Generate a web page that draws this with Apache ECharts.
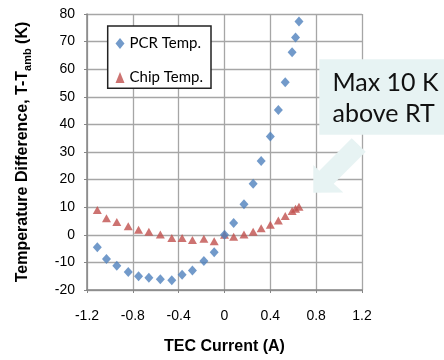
<!DOCTYPE html>
<html>
<head>
<meta charset="utf-8">
<script src="https://cdn.jsdelivr.net/npm/echarts@6/dist/echarts.min.js"></script>
<style>
  html, body { margin: 0; padding: 0; background: #fff; }
  #chart { width: 444px; height: 360px; }
</style>
</head>
<body>
<div id="chart"></div>
<script>
// TEC current (A), shared by both series
const tecCurrent = [-1.11, -1.03, -0.94, -0.84, -0.75, -0.66, -0.56, -0.46, -0.37, -0.28, -0.18, -0.09,
  0, 0.08, 0.17, 0.25, 0.32, 0.40, 0.47, 0.53, 0.59, 0.62, 0.65];
// T - T_amb (K)
const pcrTemp = [-4.5, -8.8, -11.2, -13.5, -15.0, -15.6, -16.1, -16.5, -14.5, -12.9, -9.5, -6.3,
  0, 4.3, 11.1, 18.5, 26.7, 35.6, 45.2, 55.3, 66.1, 71.5, 77.3];
const chipTemp = [9.0, 6.0, 4.6, 3.1, 1.8, 1.1, 0.1, -1.2, -1.2, -1.9, -1.4, -2.3,
  0, -0.7, 0.1, 1.1, 2.4, 3.6, 5.2, 6.8, 8.6, 9.4, 10.2];
const seriesNames = ["PCR Temp.", "Chip Temp."];
const noteLines = ["Max 10 K", "above RT"];

const pair = (ys) => tecCurrent.map((x, i) => [x, ys[i]]);

const chart = echarts.init(document.getElementById("chart"));

const axisFont = { color: "#000", fontFamily: "Liberation Sans", fontSize: 14 };

chart.setOption({
  animation: false,
  backgroundColor: "#fff",
  grid: { left: 87, top: 14, width: 275, height: 280 },
  xAxis: {
    type: "value",
    min: -1.2,
    max: 1.2,
    interval: 0.4,
    name: "TEC Current (A)",
    nameLocation: "middle",
    nameGap: 49,
    nameTextStyle: { color: "#000", fontFamily: "Liberation Sans", fontSize: 16, fontWeight: "bold" },
    axisLine: { onZero: false, lineStyle: { color: "#868686", width: 1.5 } },
    axisTick: { show: true, length: 3, lineStyle: { color: "#868686" } },
    axisLabel: Object.assign({ margin: 19, formatter: (v) => (Math.abs(v) < 1e-9 ? "0" : v.toFixed(1)) }, axisFont),
    splitLine: { show: true, lineStyle: { color: "#a6a6a6", width: 1.3 } },
  },
  yAxis: {
    type: "value",
    min: -20,
    max: 80,
    interval: 10,
    name: "Temperature Difference, T-T{sub|amb} (K)",
    nameLocation: "middle",
    nameRotate: 90,
    nameGap: 54,
    nameTextStyle: {
      color: "#000", fontFamily: "Liberation Sans", fontSize: 16, fontWeight: "bold",
      rich: { sub: { fontSize: 11, fontWeight: "bold", fontFamily: "Liberation Sans", color: "#000", padding: [9, 0, 0, 0] } },
    },
    axisLine: { show: true, onZero: false, lineStyle: { color: "#868686", width: 1.5 } },
    axisTick: { show: true, length: 3, lineStyle: { color: "#868686" } },
    axisLabel: Object.assign({ margin: 12 }, axisFont),
    splitLine: { show: true, lineStyle: { color: "#a6a6a6", width: 1.3 } },
  },
  legend: {
    orient: "vertical",
    left: 115.5,
    top: 36,
    padding: 0,
    itemGap: 19,
    itemWidth: 9,
    itemHeight: 11,
    z: 10,
    textStyle: { color: "#000", fontFamily: "Lato", fontSize: 15 },
    data: [
      { name: seriesNames[0], icon: "diamond" },
      { name: seriesNames[1], icon: "triangle" },
    ],
  },
  graphic: [
    {
      type: "rect", z: 5,
      shape: { x: 107.7, y: 26, width: 103.3, height: 62.3 },
      style: { fill: "#fff", stroke: "#222", lineWidth: 1.5 },
    },
    {
      type: "rect", z: 5,
      shape: { x: 319.3, y: 59.3, width: 130, height: 75.4 },
      style: { fill: "#e7f3f3" },
    },
    {
      type: "polygon", z: 5,
      shape: { points: [[351.7, 138.3], [365.7, 151.7], [333.7, 183.7], [343.3, 192.5], [313.3, 192.7], [313.3, 165], [319.3, 170.7]] },
      style: { fill: "#e7f3f3" },
    },
    {
      type: "text", z: 6, left: 332.5, top: 67,
      style: { text: noteLines.join("\n"), fill: "#111", font: "25px Lato", lineHeight: 31.6 },
    },
  ],
  series: [
    {
      name: seriesNames[0],
      type: "scatter",
      symbol: "diamond",
      symbolSize: [9, 10],
      itemStyle: { color: "#4f81bd" },
      data: pair(pcrTemp),
      z: 3,
    },
    {
      name: seriesNames[1],
      type: "scatter",
      symbol: "triangle",
      symbolSize: [9, 8],
      itemStyle: { color: "#c0504d" },
      data: pair(chipTemp),
      z: 2,
    },
  ],
});
</script>
</body>
</html>
